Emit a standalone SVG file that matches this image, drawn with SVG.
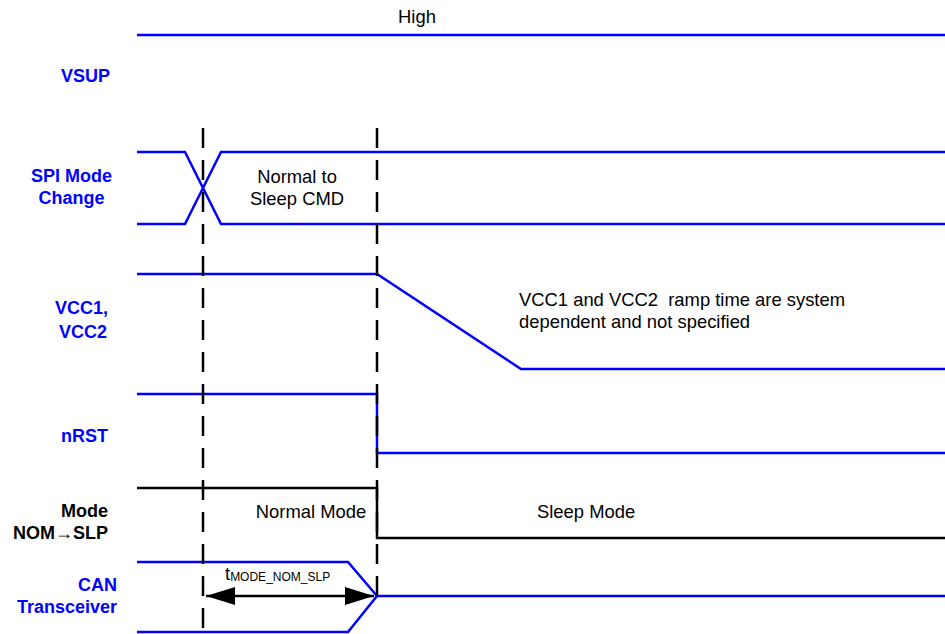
<svg xmlns="http://www.w3.org/2000/svg" width="945" height="634" viewBox="0 0 945 634">
<style>
.sig{fill:none;stroke:#0000ff;stroke-width:2.5;stroke-linejoin:miter}
.blk{fill:none;stroke:#000;stroke-width:2.5}
.dash{fill:none;stroke:#000;stroke-width:2.5;stroke-dasharray:20 12}
.lbl{font-family:"Liberation Sans",Arial,sans-serif;font-size:18px;font-weight:bold;fill:#0000ff}
.lblk{font-family:"Liberation Sans",Arial,sans-serif;font-size:18px;font-weight:bold;fill:#000}
.txt{font-family:"Liberation Sans",Arial,sans-serif;font-size:18.4px;fill:#000}
</style>
<defs>
<marker id="ah" markerWidth="29" markerHeight="18" refX="29" refY="9" orient="auto-start-reverse" markerUnits="userSpaceOnUse">
<path d="M0,0 L29,9 L0,18 Z" fill="#000"/>
</marker>
</defs>
<g id="labels">
<text class="lbl" x="110" y="82" text-anchor="end">VSUP</text>
<text class="lbl" x="71.5" y="182" text-anchor="middle">SPI Mode</text>
<text class="lbl" x="71.5" y="204" text-anchor="middle">Change</text>
<text class="lbl" x="108" y="314" text-anchor="end">VCC1,</text>
<text class="lbl" x="107" y="338" text-anchor="end">VCC2</text>
<text class="lbl" x="108" y="442" text-anchor="end">nRST</text>
<text class="lblk" x="108" y="517" text-anchor="end">Mode</text>
<text class="lblk" x="108" y="539" text-anchor="end">NOM→SLP</text>
<text class="lbl" x="117" y="591" text-anchor="end">CAN</text>
<text class="lbl" x="117" y="613" text-anchor="end">Transceiver</text>
</g>
<g id="vsup">
<path class="sig" d="M137,35 H945"/>
<text class="txt" x="417" y="23" text-anchor="middle">High</text>
</g>
<g id="spi">
<path class="sig" d="M137,152 H185 L221,224 H945"/>
<path class="sig" d="M137,224 H185 L221,152 H945"/>
<text class="txt" x="297" y="183" text-anchor="middle">Normal to</text>
<text class="txt" x="297" y="205" text-anchor="middle">Sleep CMD</text>
</g>
<g id="vcc">
<path class="sig" d="M137,274 H377 L521,369 H945"/>
<text class="txt" x="519" y="306" xml:space="preserve">VCC1 and VCC2  ramp time are system</text>
<text class="txt" x="519" y="328">dependent and not specified</text>
</g>
<g id="nrst">
<path class="sig" d="M137,394 H377 V453 H945"/>
</g>
<g id="mode">
<path class="blk" d="M137,488 H377 V538 H945"/>
<text class="txt" x="311" y="518" text-anchor="middle">Normal Mode</text>
<text class="txt" x="537" y="518">Sleep Mode</text>
</g>
<g id="can">
<path class="sig" d="M137,562 H348 L377,596 H945"/>
<path class="sig" d="M137,632 H348 L377,596"/>
</g>
<g id="connectors">
<path class="dash" d="M203,128 V634"/>
<path class="dash" d="M377,128 V600"/>
<path class="blk" d="M206,596 H374" marker-start="url(#ah)" marker-end="url(#ah)"/>
<text class="txt" x="225" y="580">t<tspan font-size="12" dy="1">MODE_NOM_SLP</tspan></text>
</g>
</svg>
